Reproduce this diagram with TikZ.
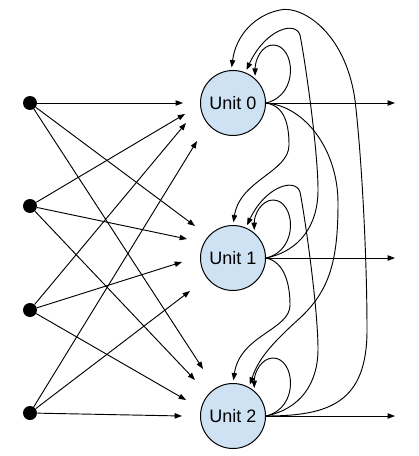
\documentclass[tikz,border=0pt]{standalone}
\usepackage{fontspec}
\setmainfont{Liberation Sans}
\usetikzlibrary{arrows.meta}
\definecolor{unitfill}{HTML}{CFE2F3}
\begin{document}
\begin{tikzpicture}[x=0.75pt,y=-0.75pt,
  unit/.style={circle,draw=black,line width=0.75pt,fill=unitfill,
    minimum size=48.75pt,inner sep=0pt,
    font=\fontsize{13.5pt}{16pt}\selectfont},
  input/.style={circle,fill=black,minimum size=10.5pt,inner sep=0pt},
  link/.style={line width=0.7pt,-{Triangle[length=5.5pt,width=4pt]}},
  rec/.style={link,shorten >=2pt}]
\useasboundingbox (0,0) rectangle (418,456);

% recurrent units
\node[unit] (u0) at (233,103) {Unit 0};
\node[unit] (u1) at (233,258) {Unit 1};
\node[unit] (u2) at (233,416) {Unit 2};

% input neurons
\node[input] (i0) at (30,103) {};
\node[input] (i1) at (30,206) {};
\node[input] (i2) at (30,310) {};
\node[input] (i3) at (30,413) {};

% free ends of the input weights
\coordinate (t00) at (183,103);
\coordinate (t01) at (195,226);
\coordinate (t02) at (203,369);
\coordinate (t10) at (185,114);
\coordinate (t11) at (187,239);
\coordinate (t12) at (195,380);
\coordinate (t20) at (186,123);
\coordinate (t21) at (182,262);
\coordinate (t22) at (186,400);
\coordinate (t30) at (197,141);
\coordinate (t31) at (190,291);
\coordinate (t32) at (182,416);

% free ends of the outputs
\coordinate (o0) at (395,103);
\coordinate (o1) at (395,258);
\coordinate (o2) at (395,416);

% input weights
\foreach \i in {0,1,2,3}{
  \foreach \j in {0,1,2}{
    \draw[link] (i\i) -- (t\i\j);
  }
}

% outputs
\draw[link] (u0) -- (o0);
\draw[link] (u1) -- (o1);
\draw[link] (u2) -- (o2);

% self loops
\draw[rec] (u0.east) .. controls +(34,-8) and +(22,0) .. +(7,-58)
  .. controls +(-11,0) and +(0,-19) .. (u0.48);
\draw[rec] (u1.east) .. controls +(34,-8) and +(22,0) .. +(7,-58)
  .. controls +(-11,0) and +(0,-19) .. (u1.50);
\draw[rec] (u2.east) .. controls +(34,-8) and +(22,0) .. +(7,-58)
  .. controls +(-11,0) and +(0,-19) .. (u2.50);

% forward recurrent links
\draw[rec] (u0.east) .. controls (285,106) and (289,125) .. (289,145)
  .. controls (289,172) and (240,180) .. (u1.90);
\draw[rec] (u1.east) .. controls (285,262) and (290,285) .. (290,305)
  .. controls (290,330) and (240,335) .. (u2.90);
\draw[rec] (u0.east) .. controls (305,106) and (338,150) .. (338,203)
  .. controls (338,260) and (330,290) .. (300,318)
  .. controls (270,345) and (258,360) .. (u2.61);

% backward recurrent links
\draw[rec] (u1.east) .. controls (300,251) and (318,225) .. (318,190)
  .. controls (318,150) and (305,60) .. (300,35)
  .. controls (295,20) and (265,30) .. (u0.68);
\draw[rec] (u2.east) .. controls (300,409) and (318,384) .. (318,349)
  .. controls (318,309) and (305,217) .. (300,192)
  .. controls (295,177) and (265,187) .. (u1.67);
\draw[rec] (u2.east) .. controls (330,416) and (367,402) .. (367,330)
  .. controls (367,260) and (362,160) .. (355,100)
  .. controls (345,30) and (300,5) .. (280,10)
  .. controls (255,15) and (236,35) .. (u0.93);
\end{tikzpicture}
\end{document}
